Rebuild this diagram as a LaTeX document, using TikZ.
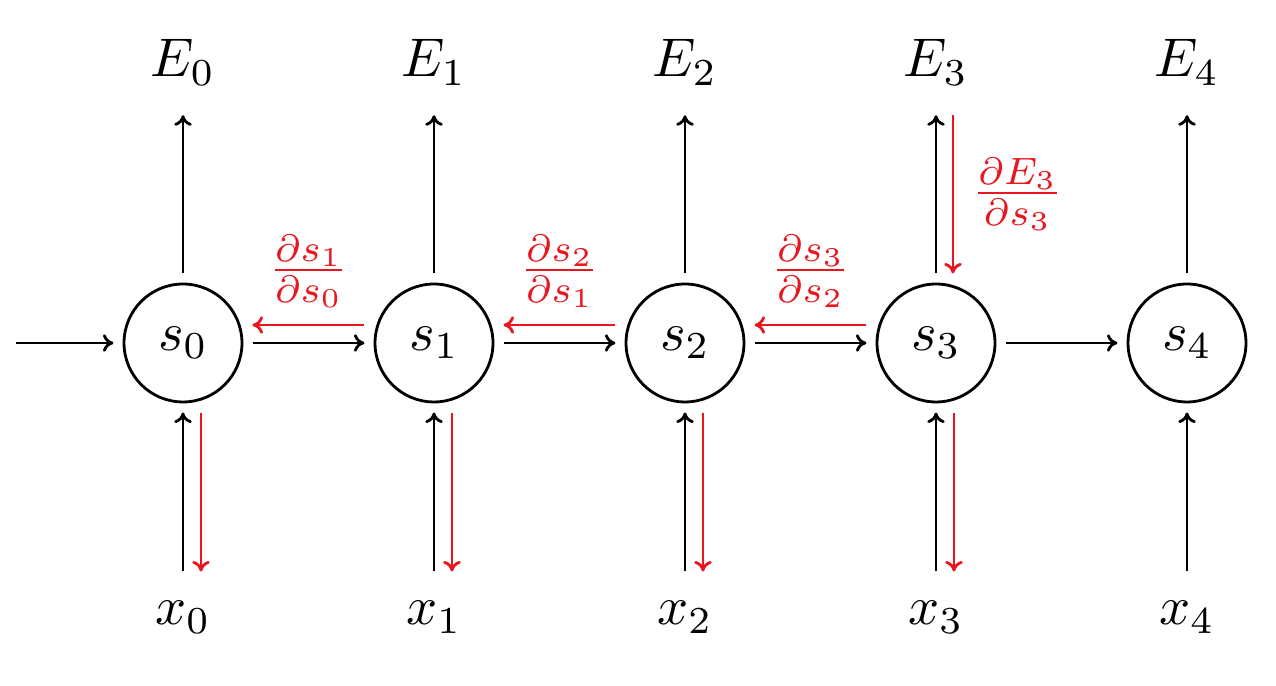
\documentclass[tikz,border=0pt]{standalone}
\usepackage{amsmath}
\usetikzlibrary{arrows.meta}
\definecolor{gradred}{RGB}{232,22,30}

\begin{document}
\begin{tikzpicture}[line width=1.6pt,
    >={Computer Modern Rightarrow[length=6pt,width=10pt]},
    every node/.style={scale=3.1},
    state/.style={draw,circle,minimum size=0.761cm,inner sep=0pt,outer sep=0.068cm},
    lbl/.style={anchor=base,inner sep=0pt,outer sep=0.194cm},
    grad/.style={gradred,->}]
    \useasboundingbox (0,0) rectangle (25.52,13.72);
    \node[state] (s0) at (3.66,6.86) {$s_0$};
    \node[state] (s1) at (8.68,6.86) {$s_1$};
    \node[state] (s2) at (13.70,6.86) {$s_2$};
    \node[state] (s3) at (18.72,6.86) {$s_3$};
    \node[state] (s4) at (23.74,6.86) {$s_4$};
    \node[lbl] (E0) at (3.66,12.18) {$E_0$};
    \node[lbl] (E1) at (8.68,12.18) {$E_1$};
    \node[lbl] (E2) at (13.70,12.18) {$E_2$};
    \node[lbl] (E3) at (18.72,12.18) {$E_3$};
    \node[lbl] (E4) at (23.74,12.18) {$E_4$};
    \node[lbl] (x0) at (3.66,1.22) {$x_0$};
    \node[lbl] (x1) at (8.68,1.22) {$x_1$};
    \node[lbl] (x2) at (13.70,1.22) {$x_2$};
    \node[lbl] (x3) at (18.72,1.22) {$x_3$};
    \node[lbl] (x4) at (23.74,1.22) {$x_4$};
    \coordinate (in) at (0.32,6.86);
    \draw[->] (in) -- (s0);
    \draw[->] (s0) -- (s1);
    \draw[->] (s1) -- (s2);
    \draw[->] (s2) -- (s3);
    \draw[->] (s3) -- (s4);
    \draw[->] (s0) -- (E0);
    \draw[->] (s1) -- (E1);
    \draw[->] (s2) -- (E2);
    \draw[->] (s3) -- (E3);
    \draw[->] (s4) -- (E4);
    \draw[->] (x0) -- (s0);
    \draw[->] (x1) -- (s1);
    \draw[->] (x2) -- (s2);
    \draw[->] (x3) -- (s3);
    \draw[->] (x4) -- (s4);
    \draw[grad] ([yshift=0.36cm]s1.west) -- ([yshift=0.36cm]s0.east) node[midway,above=-0.035cm] {$\frac{\partial s_1}{\partial s_0}$};
    \draw[grad] ([yshift=0.36cm]s2.west) -- ([yshift=0.36cm]s1.east) node[midway,above=-0.035cm] {$\frac{\partial s_2}{\partial s_1}$};
    \draw[grad] ([yshift=0.36cm]s3.west) -- ([yshift=0.36cm]s2.east) node[midway,above=-0.035cm] {$\frac{\partial s_3}{\partial s_2}$};
    \draw[grad] ([xshift=0.34cm]E3.south) -- ([xshift=0.34cm]s3.north) node[midway,right=-0.026cm] {$\frac{\partial E_3}{\partial s_3}$};
    \draw[grad] ([xshift=0.36cm]s0.south) -- ([xshift=0.36cm]x0.north);
    \draw[grad] ([xshift=0.36cm]s1.south) -- ([xshift=0.36cm]x1.north);
    \draw[grad] ([xshift=0.36cm]s2.south) -- ([xshift=0.36cm]x2.north);
    \draw[grad] ([xshift=0.36cm]s3.south) -- ([xshift=0.36cm]x3.north);
\end{tikzpicture}
\end{document}
